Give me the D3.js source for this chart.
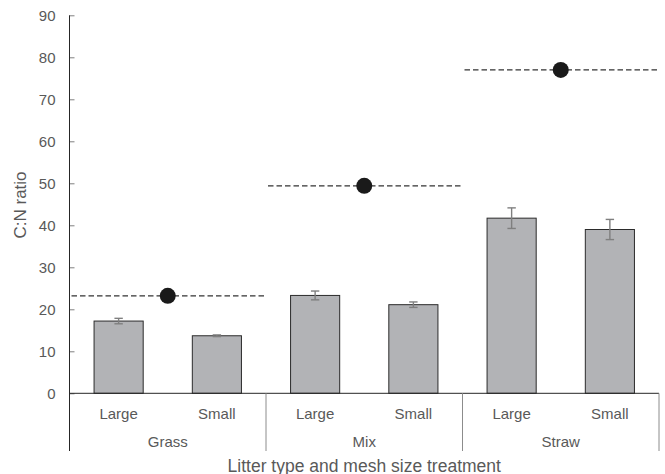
<!DOCTYPE html>
<html>
<head>
<meta charset="utf-8">
<script src="https://cdn.jsdelivr.net/npm/d3@7"></script>
<style>
  html, body { margin: 0; padding: 0; background: #fff; }
  svg { display: block; font-family: "Liberation Sans", Arial, sans-serif; }
</style>
</head>
<body>
<svg id="chart" width="665" height="474"></svg>
<script>
// Litter types (outer category level) and mesh sizes (inner level)
const litterTypes = ["Grass", "Mix", "Straw"];
const meshSizes = ["Large", "Small"];

// Mean C:N ratio after decomposition, per litter type, [Large, Small]
const meanCN = [
  [17.2, 13.7],
  [23.3, 21.1],
  [41.7, 39.0]
];
// Standard errors, same layout
const errCN = [
  [0.65, 0.2],
  [1.05, 0.65],
  [2.45, 2.4]
];
// Initial C:N ratio of each litter type
const initialCN = [23.2, 49.4, 77.0];

const yTicks = [0, 10, 20, 30, 40, 50, 60, 70, 80, 90];

const svg = d3.select("#chart");
const plotLeft = 69.5, plotRight = 659, plotTop = 15.3, plotBottom = 393.3;

const y = d3.scaleLinear().domain([0, 90]).range([plotBottom, plotTop]);
const xGroup = d3.scaleBand().domain(litterTypes).range([plotLeft, plotRight]).padding(0);
const xInner = d3.scaleBand().domain(meshSizes).range([0, xGroup.bandwidth()]).paddingInner(0.5).paddingOuter(0.25);

const txt = "#595959";
const labelSize = 15, titleSize = 17.5;

// Y axis: ticks point inward, labels to the left
const yAxis = d3.axisRight(y).tickValues(yTicks).tickSize(5).tickFormat(d3.format("d"));
const gy = svg.append("g").attr("transform", `translate(${plotLeft},0)`).call(yAxis);
gy.select(".domain").remove();
gy.selectAll(".tick line").attr("stroke", "#7f7f7f");
gy.selectAll(".tick text")
  .attr("x", -14).attr("text-anchor", "end")
  .attr("fill", txt).attr("font-size", labelSize).attr("dy", "0.36em");
svg.append("line")
  .attr("x1", plotLeft).attr("x2", plotLeft).attr("y1", plotTop).attr("y2", 451)
  .attr("stroke", "#262626").attr("stroke-width", 1);

// Y axis title
svg.append("text")
  .attr("transform", `translate(26,205) rotate(-90)`)
  .attr("text-anchor", "middle")
  .attr("fill", txt).attr("font-size", 17)
  .text("C:N ratio");

// Bars with error bars
const groups = svg.selectAll("g.litter")
  .data(litterTypes)
  .join("g")
  .attr("class", "litter")
  .attr("transform", d => `translate(${xGroup(d)},0)`);

groups.each(function(type, gi) {
  const g = d3.select(this);
  const rows = meshSizes.map((m, mi) => ({ m, v: meanCN[gi][mi], e: errCN[gi][mi] }));

  g.selectAll("rect")
    .data(rows)
    .join("rect")
    .attr("x", d => xInner(d.m))
    .attr("width", xInner.bandwidth())
    .attr("y", d => y(d.v))
    .attr("height", d => y(0) - y(d.v))
    .attr("fill", "#b2b3b6")
    .attr("stroke", "#2b2b2b")
    .attr("stroke-width", 1);

  const eb = g.selectAll("g.err").data(rows).join("g").attr("class", "err")
    .attr("stroke", "#7f7f7f").attr("stroke-width", 1.4);
  const cx = d => xInner(d.m) + xInner.bandwidth() / 2;
  eb.append("line")
    .attr("x1", cx).attr("x2", cx)
    .attr("y1", d => y(d.v - d.e)).attr("y2", d => y(d.v + d.e));
  eb.append("line")
    .attr("x1", d => cx(d) - 4.2).attr("x2", d => cx(d) + 4.2)
    .attr("y1", d => y(d.v + d.e)).attr("y2", d => y(d.v + d.e));
  eb.append("line")
    .attr("x1", d => cx(d) - 4.2).attr("x2", d => cx(d) + 4.2)
    .attr("y1", d => y(d.v - d.e)).attr("y2", d => y(d.v - d.e));

  // Mesh size labels
  g.selectAll("text.mesh")
    .data(meshSizes)
    .join("text")
    .attr("class", "mesh")
    .attr("x", m => xInner(m) + xInner.bandwidth() / 2)
    .attr("y", 418.5)
    .attr("text-anchor", "middle")
    .attr("fill", txt).attr("font-size", labelSize)
    .text(m => m);

  // Litter type label
  g.append("text")
    .attr("x", xGroup.bandwidth() / 2)
    .attr("y", 447)
    .attr("text-anchor", "middle")
    .attr("fill", txt).attr("font-size", labelSize)
    .text(type);
});

// Initial C:N reference lines and markers
const ref = svg.selectAll("g.initial")
  .data(litterTypes.map((t, i) => ({ t, v: initialCN[i] })))
  .join("g").attr("class", "initial");
ref.append("line")
  .attr("x1", d => xGroup(d.t) + 2)
  .attr("x2", d => xGroup(d.t) + xGroup.bandwidth() + 1)
  .attr("y1", d => y(d.v)).attr("y2", d => y(d.v))
  .attr("stroke", "#333").attr("stroke-width", 1.2)
  .attr("stroke-dasharray", "5.5,3");
ref.append("circle")
  .attr("cx", d => xGroup(d.t) + xGroup.bandwidth() / 2)
  .attr("cy", d => y(d.v))
  .attr("r", 8)
  .attr("fill", "#1a1a1a");

// Category axis: baseline and group separators
svg.append("line")
  .attr("x1", plotLeft).attr("x2", plotRight).attr("y1", y(0)).attr("y2", y(0))
  .attr("stroke", "#262626").attr("stroke-width", 1);
svg.selectAll("line.sep")
  .data(litterTypes.slice(1).map(t => xGroup(t)).concat([plotRight]))
  .join("line").attr("class", "sep")
  .attr("x1", d => d).attr("x2", d => d)
  .attr("y1", y(0)).attr("y2", 451)
  .attr("stroke", "#8c8c8c").attr("stroke-width", 1);

// X axis title
svg.append("text")
  .attr("x", (plotLeft + plotRight) / 2)
  .attr("y", 471.5)
  .attr("text-anchor", "middle")
  .attr("fill", txt).attr("font-size", titleSize)
  .text("Litter type and mesh size treatment");
</script>
</body>
</html>
